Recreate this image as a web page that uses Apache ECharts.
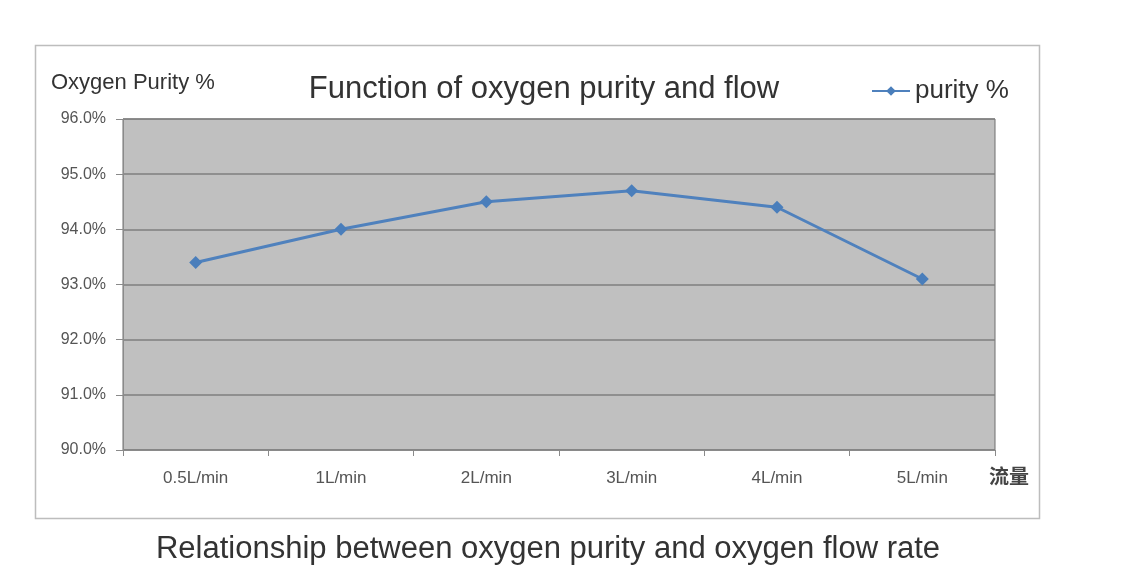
<!DOCTYPE html>
<html>
<head>
<meta charset="utf-8">
<script src="https://cdn.jsdelivr.net/npm/echarts@6/dist/echarts.min.js"></script>
<style>html,body{margin:0;padding:0;background:#fff;}#c{width:1126px;height:581px;}</style>
</head>
<body>
<div id="c"></div>
<script>
const categories = ['0.5L/min', '1L/min', '2L/min', '3L/min', '4L/min', '5L/min'];
const purity = [93.4, 94.0, 94.5, 94.7, 94.4, 93.1];
const seriesName = 'purity %';
const chartTitle = 'Function of oxygen purity and flow';
const yAxisTitle = 'Oxygen Purity %';
const xAxisTitle = '流量';
const caption = 'Relationship between oxygen purity and oxygen flow rate';

const chart = echarts.init(document.getElementById('c'));
const font = '"Liberation Sans", Arial, sans-serif';
chart.setOption({
  backgroundColor: '#fff',
  animation: false,
  graphic: [
    { type: 'rect', z: -10, shape: { x: 35.5, y: 45.5, width: 1004, height: 473 },
      style: { fill: '#fff', stroke: '#bdbdbd', lineWidth: 1.5 } },
    { type: 'text', left: 989, top: 466,
      style: { text: xAxisTitle, font: 'bold 20px "Noto Sans CJK SC", sans-serif', fill: '#444' } }
  ],
  title: [
    { text: chartTitle, left: 539, top: 69, textAlign: 'center',
      textStyle: { fontFamily: font, fontSize: 31, fontWeight: 'normal', color: '#333' } },
    { text: yAxisTitle, left: 46, top: 67,
      textStyle: { fontFamily: font, fontSize: 22, fontWeight: 'normal', color: '#333' } },
    { text: caption, left: 543, top: 529, textAlign: 'center',
      textStyle: { fontFamily: font, fontSize: 31, fontWeight: 'normal', color: '#333' } }
  ],
  legend: {
    left: 866, top: 73,
    itemWidth: 38, itemHeight: 12, itemGap: 6,
    textStyle: { fontFamily: font, fontSize: 26, color: '#333' },
    data: [seriesName]
  },
  grid: { left: 123, right: 131, top: 119, bottom: 131, show: true,
    backgroundColor: '#c0c0c0', borderColor: '#6f6f6f', borderWidth: 1 },
  xAxis: {
    type: 'category', data: categories, boundaryGap: true,
    axisLine: { show: true, lineStyle: { color: '#8a8a8a', width: 1 } },
    axisTick: { show: true, length: 6, lineStyle: { color: '#8a8a8a' } },
    axisLabel: { margin: 20, fontFamily: font, fontSize: 17, color: '#555' }
  },
  yAxis: {
    type: 'value', min: 90, max: 96, interval: 1,
    axisLine: { show: true, lineStyle: { color: '#8a8a8a' } },
    axisTick: { show: true, inside: false, length: 7, lineStyle: { color: '#8a8a8a' } },
    axisLabel: { margin: 17, fontFamily: font, fontSize: 16, color: '#555',
      formatter: v => v.toFixed(1) + '%' },
    splitLine: { show: true, lineStyle: { color: '#7f7f7f', width: 1.5 } }
  },
  series: [{
    name: seriesName, type: 'line', data: purity,
    symbol: 'diamond', symbolSize: 13,
    lineStyle: { color: '#4f81bd', width: 3 },
    itemStyle: { color: '#4a7ebb' }
  }]
});
</script>
</body>
</html>
